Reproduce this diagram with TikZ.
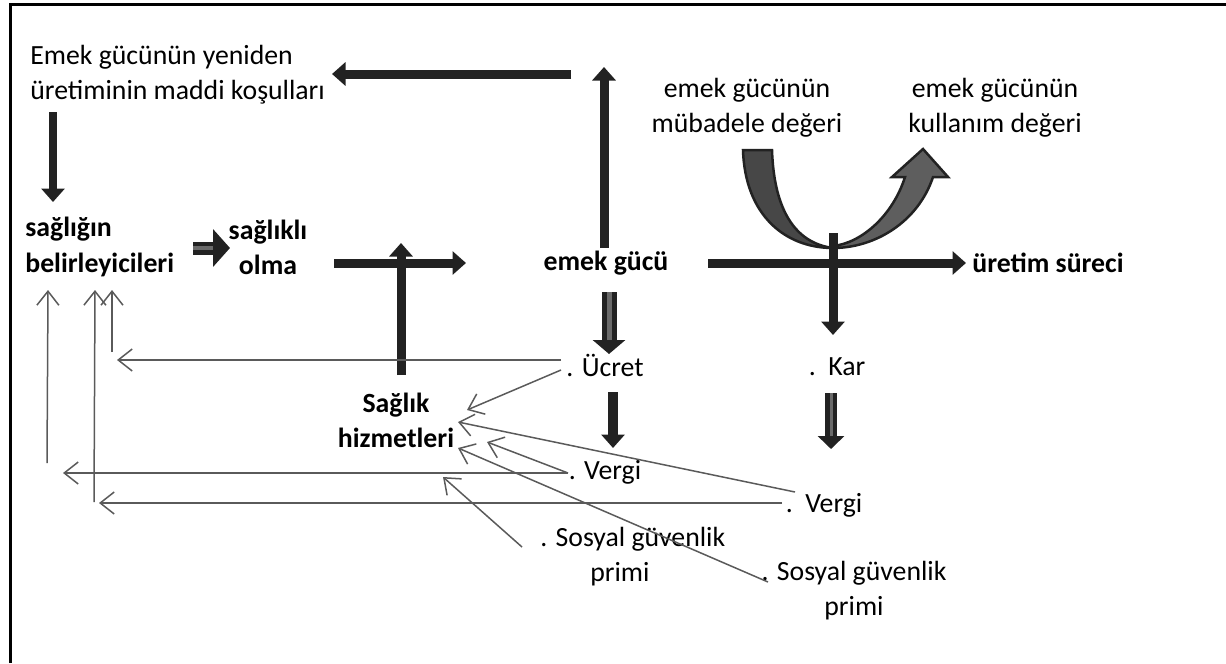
\documentclass[tikz,border=0pt]{standalone}
\usepackage{fontspec}
\setmainfont{Carlito}
\usetikzlibrary{arrows.meta}
\usetikzlibrary{calc}
\usetikzlibrary{positioning}

\definecolor{ink}{HTML}{222222}
\definecolor{thin}{HTML}{5A5A5A}
\definecolor{midgray}{HTML}{6A6A6A}
\definecolor{armdark}{HTML}{474747}
\definecolor{armlight}{HTML}{5E5E5E}

\tikzset{
	lbl/.style={inner sep=0pt, align=center, font=\fontsize{15.8}{20}\selectfont},
	lblb/.style={lbl, font=\fontsize{15.8}{20}\selectfont\bfseries},
	blk/.style={draw=ink, line width=0.18cm, -{Triangle[width=0.46cm,length=0.27cm]}},
	fat/.style={draw=ink, line width=0.1cm, double=midgray, double distance=0.1cm, -{Triangle[width=0.64cm,length=0.28cm]}},
	flow/.style={draw=thin, line width=0.03cm, -{Straight Barb[length=0.28cm,width=0.44cm]}}
}

\begin{document}
\begin{tikzpicture}[x=0.02cm, y=-0.02cm]
	\useasboundingbox (0,0) rectangle (1226,663);
	% frame (only top and left edges are visible)
	\draw [line width=0.06cm] (10.5,663) -- (10.5,4.5) -- (1226,4.5);

	% texts
	\node [lbl, align=left, anchor=west] at (30,75) (yeniden){Emek gücünün yeniden\\üretiminin maddi koşulları};
	\node [lblb, align=left, anchor=west] at (25,247) (belirle){sağlığın\\belirleyicileri};
	\node [lblb] at (268,247) (saglikli){sağlıklı\\olma};
	\node [lblb] at (606,263) (emekgucu){emek gücü};
	\node [lblb, anchor=west] at (972,263) (uretim){üretim süreci};
	\node [lbl] at (747,108) (mubadele){emek gücünün\\mübadele değeri};
	\node [lbl] at (995,108) (kullanim){emek gücünün\\kullanım değeri};
	\node [lbl] at (605,365) (ucret){. Ücret};
	\node [lbl] at (837,367) (kar){.\ \ Kar};
	\node [lbl] at (605,472) (vergiA){. Vergi};
	\node [lbl] at (824,505) (vergiB){.\ \ Vergi};
	\node [lbl, align=left, anchor=west] at (540,557) (sosyalA){. Sosyal güvenlik\\\hspace*{1cm}primi};
	\node [lbl] at (854,591) (sosyalB){. Sosyal güvenlik\\primi};
	\node [lblb] at (396,420) (hizmet){Sağlık\\hizmetleri};

	% free ends
	\coordinate (upEnd) at (604,67);
	\coordinate (leftStart) at (571,74);
	\coordinate (midEnd) at (466,263);
	\coordinate (hizEnd) at (401,243);
	\coordinate (karTop) at (833,233);
	\coordinate (karEnd) at (831,449);

	% exchange value -> use value
	\filldraw [draw=ink, line width=0.05cm, fill=armlight] (833,248) .. controls (875,248) and (918,222) .. (933,177)
		-- (948,177) -- (923,149) -- (892,177) -- (905,177) .. controls (893,215) and (862,243) .. (833,246) -- cycle;
	\filldraw [draw=ink, line width=0.05cm, fill=armdark] (743,150) .. controls (745,215) and (785,248) .. (833,248)
		.. controls (795,243) and (774,210) .. (772,150) -- cycle;

	% thick arrows
	\draw [blk] ($(emekgucu)+(-2,-15)$) -- (upEnd);
	\draw [blk] (leftStart) -- ($(yeniden.west)+(302,-1)$);
	\draw [blk] ($(yeniden.west)+(23,37)$) -- ($(belirle.west)+(28,-45)$);
	\draw [blk] ($(saglikli)+(66,16)$) -- (midEnd);
	\draw [blk] ($(hizmet)+(5,-45)$) -- (hizEnd);
	\draw [blk] ($(emekgucu)+(102,0)$) -- ($(uretim.west)+(-6,0)$);
	\draw [blk] (karTop) -- ($(kar)+(-4,-32)$);
	\draw [blk, line width=0.2cm] ($(ucret)+(8,27)$) -- ($(vergiA)+(8,-24)$);
	\draw [fat] ($(emekgucu)+(3,29)$) -- ($(ucret)+(4,-11)$);
	\draw [fat, line width=0.09cm, double distance=0.06cm, -{Triangle[width=0.52cm,length=0.26cm]}] ($(kar)+(-6,26)$) -- (karEnd);
	\draw [fat, line width=0.09cm, double distance=0.08cm, -{Triangle[width=0.74cm,length=0.34cm]}] ($(belirle.west)+(168,1)$) -- ($(saglikli)+(-38,1)$);

	% money flows
	\draw [flow] ($(ucret)+(-44,-5)$) -- (117,360);
	\draw [flow] ($(ucret)+(-44,5)$) -- ($(hizmet)+(71,-10)$);
	\draw [flow] ($(vergiA)+(-37,1)$) -- (63,473);
	\draw [flow] ($(vergiA)+(-37,1)$) -- ($(hizmet)+(91,22)$);
	\draw [flow] ($(vergiB)+(-42,-2)$) -- (99,503);
	\draw [flow] ($(vergiB)+(-29,-13)$) -- ($(hizmet)+(62,2)$);
	\draw [flow] ($(sosyalA.west)+(-18,-10)$) -- ($(hizmet)+(47,57)$);
	\draw [flow] ($(sosyalB)+(-86,-9)$) -- ($(hizmet)+(62,28)$);
	\draw [flow] (47,463) -- ($(belirle.west)+(23,43)$);
	\draw [flow] (94,502) -- ($(belirle.west)+(70,43)$);
	\draw [flow] (112,352) -- ($(belirle.west)+(87,43)$);
\end{tikzpicture}
\end{document}
